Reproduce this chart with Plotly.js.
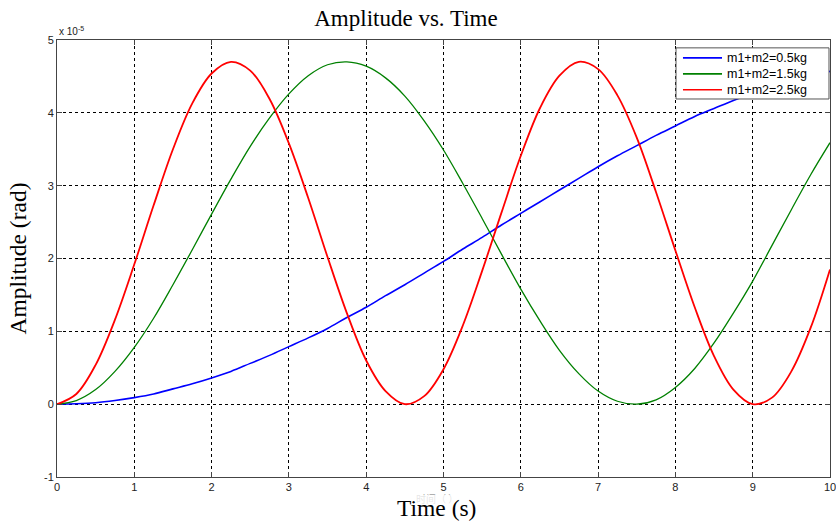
<!DOCTYPE html>
<html>
<head>
<meta charset="utf-8">
<script src="https://cdn.plot.ly/plotly-3.0.1.min.js"></script>
<style>html,body{margin:0;padding:0;background:#fff;}#chart{width:836px;height:524px;}</style>
</head>
<body>
<div id="chart"></div>
<script>
// Time samples (s)
const time = [0,0.25,0.5,0.75,1,1.25,1.5,1.75,2,2.25,2.5,2.75,3,3.25,3.5,3.75,4,4.25,4.5,4.75,5,5.25,5.5,5.75,6,6.25,6.5,6.75,7,7.25,7.5,7.75,8,8.25,8.5,8.75,9,9.25,9.5,9.75,10];
// Amplitudes in units of 1e-5 rad
const amp05 = [0,0.006,0.02,0.05,0.09,0.14,0.21,0.28,0.36,0.45,0.56,0.67,0.79,0.91,1.04,1.19,1.33,1.49,1.64,1.80,1.96,2.13,2.29,2.46,2.62,2.78,2.94,3.10,3.26,3.41,3.55,3.69,3.82,3.95,4.06,4.17,4.27,4.36,4.44,4.51,4.57];
const amp15 = [0,0.05,0.20,0.45,0.78,1.18,1.64,2.12,2.61,3.09,3.54,3.93,4.26,4.51,4.66,4.70,4.64,4.48,4.23,3.89,3.49,3.03,2.55,2.06,1.58,1.14,0.74,0.42,0.18,0.04,0.00,0.06,0.23,0.49,0.84,1.25,1.69,2.18,2.67,3.15,3.59];
const amp25 = [0,0.14,0.54,1.16,1.92,2.73,3.50,4.13,4.54,4.70,4.58,4.19,3.58,2.83,2.02,1.25,0.60,0.18,0.00,0.11,0.48,1.08,1.83,2.63,3.41,4.07,4.51,4.70,4.60,4.24,3.66,2.91,2.11,1.33,0.66,0.20,0.00,0.09,0.45,1.05,1.85];
const seriesNames = ['m1+m2=0.5kg','m1+m2=1.5kg','m1+m2=2.5kg'];
const seriesColors = ['#0000ff','#008000','#ff0000'];
const seriesWidths = [1.6, 1.3, 1.8];
const xTicks = [0,1,2,3,4,5,6,7,8,9,10];
const yTicks = [-1,0,1,2,3,4,5];

const seriesY = [amp05, amp15, amp25];
const traces = seriesY.map((y, i) => ({
  x: time, y: y, name: seriesNames[i], mode: 'lines', showlegend: false,
  line: {color: seriesColors[i], width: seriesWidths[i], shape: 'spline'}
}));

const axisCommon = {
  showline: true, linecolor: '#444', linewidth: 1, mirror: 'ticks',
  ticks: 'inside', ticklen: 5, tickcolor: '#444',
  showgrid: true, gridcolor: '#000', griddash: 'dot', gridwidth: 1,
  zeroline: false, ticklabeloverflow: 'allow',
  tickfont: {family: 'Liberation Sans, Arial, sans-serif', size: 11, color: '#222'}
};

// Legend box (drawn as shapes/annotations, paper coordinates)
const lgX0 = 0.8008, lgX1 = 0.9987, lgY0 = 0.865, lgY1 = 0.982;
const lgRowY = [0.959, 0.9225, 0.886];
const lgLineX0 = 0.8098, lgLineX1 = 0.8603, lgTextX = 0.8642;

const shapes = [
  {type: 'rect', xref: 'paper', yref: 'paper', x0: lgX0, x1: lgX1, y0: lgY0, y1: lgY1,
   fillcolor: '#fff', line: {color: '#555', width: 1}, layer: 'above'}
];
const legendTexts = [];
seriesNames.forEach((n, i) => {
  shapes.push({type: 'line', xref: 'paper', yref: 'paper', x0: lgLineX0, x1: lgLineX1, y0: lgRowY[i], y1: lgRowY[i],
    line: {color: seriesColors[i], width: 1.6}, layer: 'above'});
  legendTexts.push({text: n, xref: 'paper', yref: 'paper', x: lgTextX, y: lgRowY[i], xanchor: 'left', yanchor: 'middle',
    showarrow: false, font: {family: 'Liberation Sans, Arial, sans-serif', size: 12.5, color: '#000'}});
});

const serif = 'Liberation Serif, Times New Roman, serif';
const layout = {
  width: 836, height: 524,
  margin: {l: 57, r: 6, t: 40, b: 47},
  paper_bgcolor: '#fff', plot_bgcolor: '#fff',
  title: {text: 'Amplitude vs. Time', font: {family: serif, size: 23, color: '#000'}, x: 0.4856, xanchor: 'center', y: 0.965, yanchor: 'middle'},
  xaxis: Object.assign({}, axisCommon, {
    range: [0, 10], tickvals: xTicks, ticktext: xTicks.map(String)
  }),
  yaxis: Object.assign({}, axisCommon, {
    range: [-1, 5], tickvals: yTicks, ticktext: yTicks.map(String),
    title: {text: 'Amplitude (rad)', font: {family: serif, size: 23.5, color: '#000'}, standoff: 10}
  }),
  showlegend: false,
  shapes: shapes,
  annotations: [
    {text: 'x 10<sup>-5</sup>', xref: 'paper', yref: 'paper', x: 0, y: 1, xanchor: 'left', yanchor: 'bottom', yshift: 1, showarrow: false,
     font: {family: 'Liberation Sans, Arial, sans-serif', size: 10, color: '#222'}},
    {text: '时间（ ）', xref: 'paper', yref: 'paper', x: 0.4915, y: 0, yshift: -12, xanchor: 'center', yanchor: 'top', showarrow: false,
     font: {family: 'Noto Sans CJK SC, sans-serif', size: 10, color: '#555'}},
    {text: 'Time (s)', xref: 'paper', yref: 'paper', x: 0.4903, y: 0, yshift: -31, xanchor: 'center', yanchor: 'middle', showarrow: false,
     bgcolor: 'rgba(255,255,255,0.85)', borderpad: 0,
     font: {family: serif, size: 23.5, color: '#000'}}
  ].concat(legendTexts)
};

Plotly.newPlot('chart', traces, layout, {displayModeBar: false, staticPlot: true});
</script>
</body>
</html>
